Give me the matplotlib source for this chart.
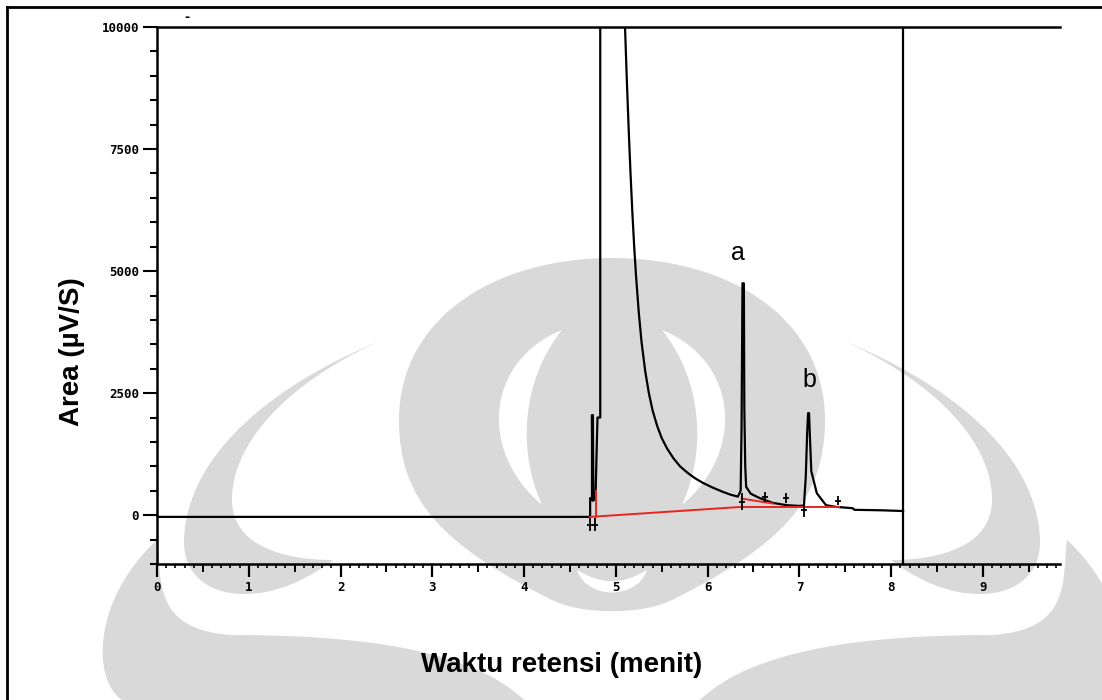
import numpy as np
import matplotlib
matplotlib.use("Agg")
from matplotlib import pyplot as plt
from matplotlib.path import Path
from matplotlib.patches import PathPatch
from matplotlib.ticker import MultipleLocator, FixedLocator

# chromatogram trace (retention time in min, signal)
waktu = [0.0, 4.70, 4.72, 4.72, 4.74, 4.74, 4.745, 4.75, 4.755, 4.77, 4.78, 4.80, 4.83,
         4.83, 5.09, 5.10, 5.12, 5.14, 5.16, 5.18, 5.20, 5.22, 5.25, 5.28, 5.32, 5.36,
         5.40, 5.45, 5.50, 5.56, 5.63, 5.70, 5.78, 5.86, 5.95, 6.05, 6.15, 6.25, 6.33,
         6.36, 6.37, 6.38, 6.395, 6.40, 6.41, 6.42, 6.47, 6.57, 6.71, 6.86, 7.00, 7.05,
         7.07, 7.085, 7.095, 7.105, 7.115, 7.13, 7.19, 7.29, 7.40, 7.58, 7.60, 7.90, 8.13]
sinyal = [-35, -35, -30, 350, 350, 2050, 300, 2050, 300, 350, 500, 2000, 2000,
          12000, 12000, 10000, 8900, 7900, 7000, 6200, 5500, 4900, 4150, 3550, 2950, 2500,
          2150, 1830, 1580, 1360, 1160, 1000, 870, 760, 660, 570, 490, 420, 380,
          500, 1800, 4750, 4750, 2200, 1000, 580, 440, 348, 252, 205, 190, 200,
          800, 1700, 2090, 2090, 1600, 900, 450, 205, 170, 143, 110, 100, 85]

# integration baselines (red)
base_x = [[4.72, 6.37], [6.37, 6.71], [6.37, 7.43], [4.785, 4.785]]
base_y = [[-35, 170], [340, 240], [170, 170], [-30, 500]]

# peak start/end event markers
event_t = [4.72, 4.77, 6.37, 6.63, 6.85, 7.05, 7.42]
event_lo = [-330, -330, 100, 266, 245, -40, 200]
event_hi = [-60, -60, 450, 470, 450, 245, 390]

stop_time = 8.13
peak_names = ["a", "b"]
peak_pos = [(6.33, 5370), (7.11, 2770)]

W, H = 1102, 700
fig = plt.figure(figsize=(W / 100, H / 100), dpi=100)

# faint logo in the background, drawn in pixel space
bg = fig.add_axes([0, 0, 1, 1], zorder=0)
bg.set_xlim(0, W)
bg.set_ylim(H, 0)
bg.axis("off")
grey = "#d9d9d9"
cx = 612

def blob(pts, color=grey):
    verts = [pts[0]]
    codes = [Path.MOVETO]
    for i in range(1, len(pts), 3):
        verts += pts[i:i + 3]
        codes += [Path.CURVE4] * 3
    verts.append(pts[0])
    codes.append(Path.CLOSEPOLY)
    bg.add_patch(PathPatch(Path(verts, codes), facecolor=color, edgecolor="none"))

def mirrored(pts, color=grey):
    blob(pts, color)
    blob([(2 * cx - x, y) for x, y in pts], color)

# central dome
blob([(cx, 258), (cx + 120, 258), (cx + 213, 320), (cx + 213, 420),
      (cx + 213, 500), (cx + 170, 545), (cx + 60, 600),
      (cx + 30, 615), (cx - 30, 615), (cx - 60, 600),
      (cx - 170, 545), (cx - 213, 500), (cx - 213, 420),
      (cx - 213, 320), (cx - 120, 258), (cx, 258)])
# white crescents inside the dome
mirrored([(cx + 50, 330), (cx + 125, 360), (cx + 135, 450), (cx + 70, 505),
          (cx + 95, 450), (cx + 90, 380), (cx + 50, 330)], "white")
# notch under the dome
blob([(cx - 35, 570), (cx - 10, 585), (cx + 10, 585), (cx + 35, 570),
      (cx + 25, 600), (cx - 25, 600), (cx - 35, 570)], "white")
# side horns curling back at the bottom
mirrored([(cx - 229, 340), (cx - 330, 380), (cx - 425, 450), (cx - 428, 540),
          (cx - 430, 600), (cx - 350, 615), (cx - 279, 560),
          (cx - 330, 560), (cx - 380, 545), (cx - 380, 500),
          (cx - 380, 430), (cx - 300, 370), (cx - 229, 340)])
# outer columns running into the bottom bands
mirrored([(cx - 455, 540), (cx - 520, 600), (cx - 520, 680), (cx - 490, 700),
          (cx - 350, 700), (cx - 200, 700), (cx - 88, 700),
          (cx - 140, 650), (cx - 250, 635), (cx - 380, 635),
          (cx - 460, 630), (cx - 450, 580), (cx - 455, 540)])

# outer frame lines
fig.add_artist(plt.Line2D([7 / W, 7 / W], [0, 1 - 7 / H], color="black", lw=2))
fig.add_artist(plt.Line2D([7 / W, 1], [1 - 7 / H, 1 - 7 / H], color="black", lw=2))

ax = fig.add_axes([157 / W, 1 - 564 / H, 903 / W, 537 / H], zorder=1)
ax.patch.set_alpha(0)
ax.plot(waktu, sinyal, color="black", lw=1.6)
for bx, by in zip(base_x, base_y):
    ax.plot(bx, by, color="#e8251f", lw=1.4)
ax.vlines(event_t, event_lo, event_hi, color="black", lw=1.3)
ax.plot(event_t, [(lo + hi) / 2 for lo, hi in zip(event_lo, event_hi)], "_",
        color="black", ms=5, mew=1.3)
ax.axvline(stop_time, color="black", lw=1.6)
for name, (px, py) in zip(peak_names, peak_pos):
    ax.text(px, py, name, fontsize=18, ha="center", va="center",
            family="Liberation Sans")

ax.set_xlim(0, 9.84)
ax.set_ylim(-1000, 10000)
ax.spines["right"].set_visible(False)
for s in ["left", "bottom", "top"]:
    ax.spines[s].set_linewidth(1.8)

ax.xaxis.set_major_locator(MultipleLocator(1))
ax.xaxis.set_minor_locator(MultipleLocator(0.1))
ax.yaxis.set_major_locator(FixedLocator([0, 2500, 5000, 7500, 10000]))
ax.yaxis.set_minor_locator(MultipleLocator(500))
ax.tick_params(axis="x", which="major", length=9, width=1.6, pad=3, labelsize=9)
ax.tick_params(axis="x", which="minor", length=3, width=1.2)
ax.tick_params(axis="y", which="major", length=10, width=1.5, pad=3, labelsize=9)
ax.tick_params(axis="y", which="minor", length=5, width=1.5)
for lab in ax.get_xticklabels() + ax.get_yticklabels():
    lab.set_family("DejaVu Sans Mono")
    lab.set_fontweight("bold")

# half-minute ticks
sec = ax.secondary_xaxis("bottom")
sec.xaxis.set_major_locator(FixedLocator(np.arange(0.5, 9.6, 1.0)))
sec.tick_params(length=6, width=1.4, labelbottom=False)
sec.spines["bottom"].set_visible(False)

fig.text(187 / W, 1 - 17 / H, "-", fontsize=9, ha="center", va="center",
         fontweight="bold")
fig.text(72 / W, 1 - 352 / H, "Area (µV/S)", rotation=90, fontsize=20,
         fontweight="bold", ha="center", va="center", family="Liberation Sans")
fig.text(562 / W, 1 - 665 / H, "Waktu retensi (menit)", fontsize=20,
         fontweight="bold", ha="center", va="center", family="Liberation Sans")

fig.savefig("out.png", dpi=100)
